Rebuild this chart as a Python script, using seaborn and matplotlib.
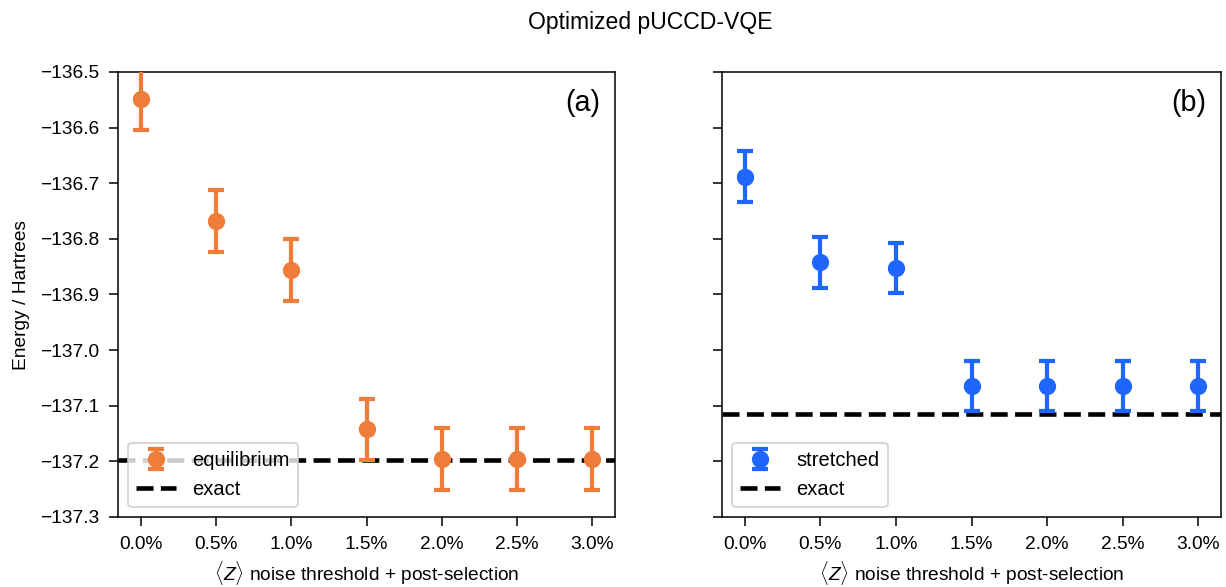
import matplotlib
matplotlib.use("Agg")
import matplotlib.pyplot as plt
import seaborn as sns
import pandas as pd

# ---- data ----
thresholds = [0.0, 0.5, 1.0, 1.5, 2.0, 2.5, 3.0]
tick_labels = ["0.0%", "0.5%", "1.0%", "1.5%", "2.0%", "2.5%", "3.0%"]
eq_energy = [-136.549, -136.768, -136.856, -137.142, -137.196, -137.196, -137.196]
eq_err = [0.056, 0.056, 0.056, 0.055, 0.056, 0.056, 0.056]
eq_exact = -137.197
st_energy = [-136.688, -136.842, -136.853, -137.065, -137.065, -137.065, -137.065]
st_err = [0.046, 0.046, 0.045, 0.045, 0.045, 0.045, 0.045]
st_exact = -137.114
y_ticks = [-137.3, -137.2, -137.1, -137.0, -136.9, -136.8, -136.7, -136.6, -136.5]

ORANGE = "#EE7D3A"
BLUE = "#1F66FF"

sns.set_theme(style="ticks", rc={
    "xtick.major.size": 4.5, "ytick.major.size": 4.5,
    "xtick.major.pad": 5.5, "ytick.major.pad": 5.5,
    "xtick.major.width": 0.8, "ytick.major.width": 0.8,
    "axes.linewidth": 0.8, "axes.edgecolor": "black",
    "xtick.color": "black", "ytick.color": "black",
    "text.color": "black", "axes.labelcolor": "black",
})
plt.rcParams["font.family"] = ["Liberation Sans", "DejaVu Sans"]
plt.rcParams["mathtext.fontset"] = "custom"
plt.rcParams["mathtext.rm"] = "Liberation Sans"
plt.rcParams["mathtext.it"] = "Liberation Sans:italic"
plt.rcParams["mathtext.fallback"] = "cm"

DPI = 138
fig = plt.figure(figsize=(1226 / DPI, 587 / DPI), dpi=DPI)
ax1 = fig.add_axes([118 / 1226, 1 - 517 / 587, (615 - 118) / 1226, (517 - 72) / 587])
ax2 = fig.add_axes([722 / 1226, 1 - 517 / 587, (1221 - 722) / 1226, (517 - 72) / 587], sharey=ax1)

df_eq = pd.DataFrame({"x": thresholds, "E": eq_energy, "err": eq_err})
df_st = pd.DataFrame({"x": thresholds, "E": st_energy, "err": st_err})

for ax, df, color, label, exact, tag in [
    (ax1, df_eq, ORANGE, "equilibrium", eq_exact, "(a)"),
    (ax2, df_st, BLUE, "stretched", st_exact, "(b)"),
]:
    eb = ax.errorbar(df["x"], df["E"], yerr=df["err"], fmt="o", color=color,
                     markersize=8, elinewidth=2.2, capsize=4, capthick=2.2,
                     label=label, zorder=3)
    sns.scatterplot(data=df, x="x", y="E", ax=ax, color=color, s=64,
                    edgecolor="none", legend=False, zorder=4)
    ln = ax.axhline(exact, color="black", linestyle="--", linewidth=2.4,
                    label="exact", zorder=2)
    ax.set_xticks(thresholds)
    ax.set_xticklabels(tick_labels)
    ax.set_xlim(-0.15, 3.15)
    ax.set_xlabel(r"$\langle Z\rangle$ noise threshold + post-selection",
                  fontsize=10, labelpad=3)
    ax.legend([eb, ln], [label, "exact"], loc="lower left", fontsize=10.5)
    ax.text(0.97, 0.93, tag, transform=ax.transAxes, ha="right", va="center",
            fontsize=15)
    ax.tick_params(labelsize=10)

ax1.set_ylim(-137.3, -136.5)
ax1.set_yticks(y_ticks)
ax1.set_ylabel("Energy / Hartrees", fontsize=10, labelpad=5)
ax2.tick_params(labelleft=False)
ax2.set_ylabel("")

fig.suptitle("Optimized pUCCD-VQE", x=650 / 1226, y=1 - 22 / 587, va="center",
             fontsize=12)

fig.savefig("out.png", dpi=DPI)
